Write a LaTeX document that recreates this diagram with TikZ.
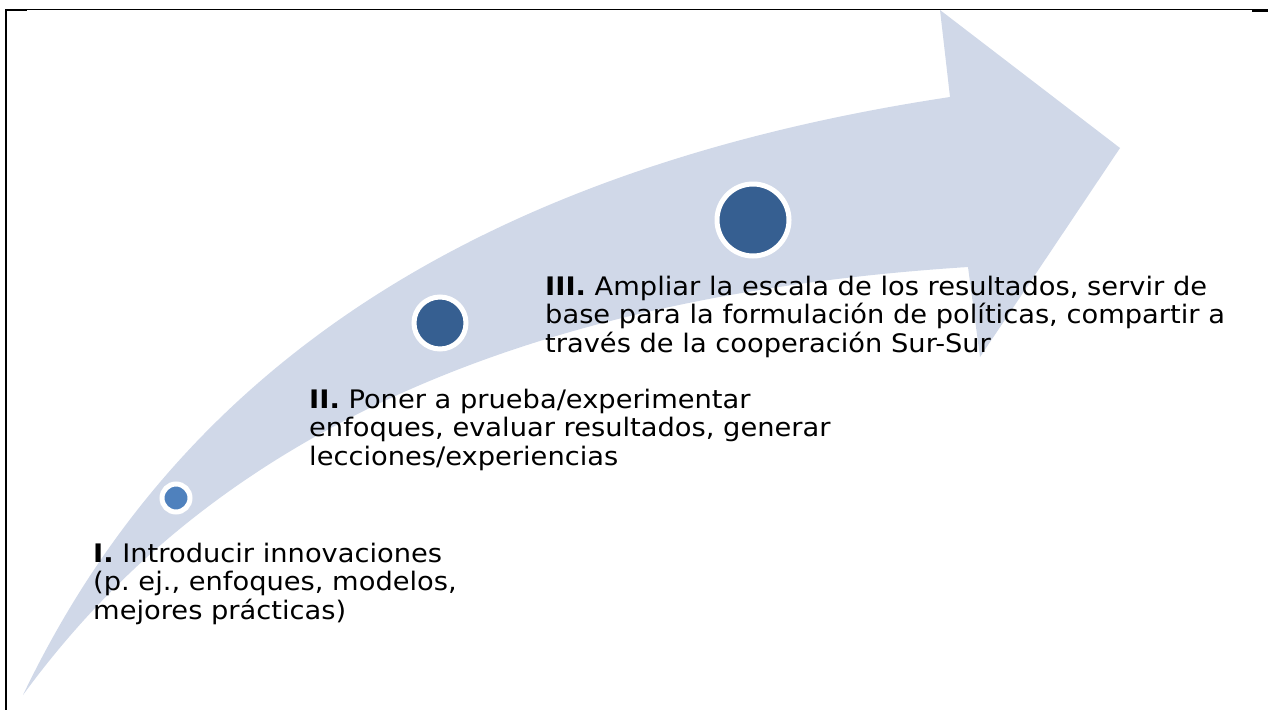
\documentclass[tikz,border=0pt]{standalone}
\usepackage{fontspec}
\setmainfont{DejaVu Sans}[FakeStretch=1.07]
\definecolor{band}{HTML}{D0D8E8}
\definecolor{dotA}{HTML}{4F81BD}
\definecolor{dotB}{HTML}{365F91}
\begin{document}
\frenchspacing
\begin{tikzpicture}[x=1pt,y=-1pt,
  dot/.style={circle,draw=white,line width=5pt,inner sep=0pt},
  lbl/.style={anchor=base west,align=left,inner sep=0pt,font=\fontsize{25.5}{28.3}\selectfont},
  frame/.style={draw=black,line width=1pt}]
\useasboundingbox (0,0) rectangle (1268,710);
% frame
\draw[frame] (6,9.5) -- (1268,9.5);
\draw[line width=2pt] (6,9.5) -- (6,710);
\draw[line width=2pt] (5,10) -- (27,10);
\draw[line width=2pt] (1252,10.5) -- (1268,10.5);
% arrow
\fill[band] (23,695) .. controls (150,430) and (400,180) .. (950,97)
  -- (940,10) -- (1120,148) -- (980,357) -- (968,267)
  .. controls (450,300) and (180,480) .. (23,695) -- cycle;
% dots
\node[dot,fill=dotA,minimum size=28pt] (c1) at (176,498) {};
\node[dot,fill=dotB,minimum size=52pt] (c2) at (440,323) {};
\node[dot,fill=dotB,minimum size=72pt] (c3) at (753,220) {};
% labels (anchor at baseline of last line)
\node[lbl] (t1) at (93,619) {\textbf{I.} Introducir innovaciones\\(p. ej., enfoques, modelos,\\mejores prácticas)};
\node[lbl] (t2) at (309,465) {\textbf{II.} Poner a prueba/experimentar\\enfoques, evaluar resultados, generar\\lecciones/experiencias};
\node[lbl] (t3) at (545,352) {\textbf{III.} Ampliar la escala de los resultados, servir de\\base para la formulación de políticas, compartir a\\través de la cooperación Sur-Sur};
\end{tikzpicture}
\end{document}
